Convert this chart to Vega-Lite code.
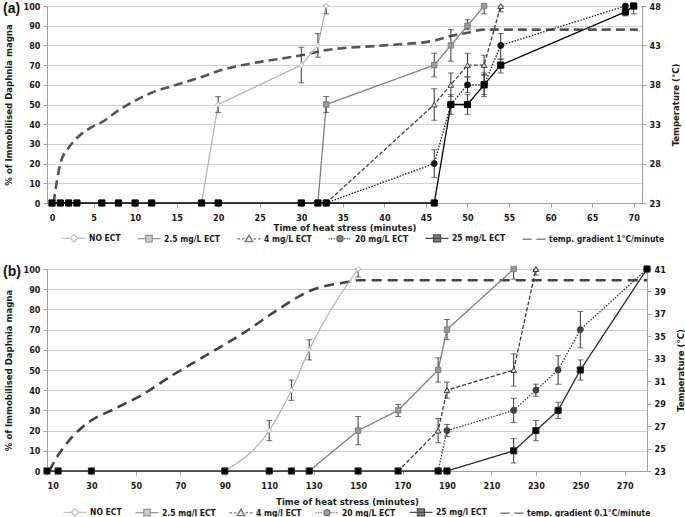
{
  "$schema": "https://vega.github.io/schema/vega-lite/v6.json",
  "padding": {"left": 3, "top": 0, "right": 0, "bottom": 0},
  "datasets": {
    "tempA": [
      {"t": 0.2, "temp": 23}, {"t": 1, "temp": 28}, {"t": 2, "temp": 30}, {"t": 3, "temp": 31.25},
      {"t": 5, "temp": 32.75}, {"t": 6, "temp": 33.25}, {"t": 8, "temp": 34.75}, {"t": 10, "temp": 36},
      {"t": 12, "temp": 37}, {"t": 15, "temp": 38}, {"t": 18, "temp": 39}, {"t": 20, "temp": 39.75},
      {"t": 23, "temp": 40.5}, {"t": 30, "temp": 41.75}, {"t": 33, "temp": 42.4}, {"t": 40, "temp": 43},
      {"t": 46, "temp": 43.6}, {"t": 48, "temp": 44.2}, {"t": 50, "temp": 44.6}, {"t": 52, "temp": 45},
      {"t": 70.5, "temp": 45}
    ],
    "serA": [
      {"series": "NO ECT", "t": 18, "p": 0},
      {"series": "NO ECT", "t": 20, "p": 50, "lo": 46, "hi": 54},
      {"series": "NO ECT", "t": 30, "p": 70, "lo": 61, "hi": 79},
      {"series": "NO ECT", "t": 32, "p": 80, "lo": 74, "hi": 86},
      {"series": "NO ECT", "t": 33, "p": 100, "lo": 96, "hi": 100},
      {"series": "2.5 mg/L ECT", "t": 32, "p": 0},
      {"series": "2.5 mg/L ECT", "t": 33, "p": 50, "lo": 46, "hi": 54},
      {"series": "2.5 mg/L ECT", "t": 46, "p": 70, "lo": 64, "hi": 76},
      {"series": "2.5 mg/L ECT", "t": 48, "p": 80, "lo": 72, "hi": 88},
      {"series": "2.5 mg/L ECT", "t": 50, "p": 90, "lo": 88, "hi": 93},
      {"series": "2.5 mg/L ECT", "t": 52, "p": 100, "lo": 96, "hi": 100},
      {"series": "4 mg/L ECT", "t": 33, "p": 0},
      {"series": "4 mg/L ECT", "t": 46, "p": 50, "lo": 42, "hi": 58},
      {"series": "4 mg/L ECT", "t": 48, "p": 60, "lo": 54, "hi": 66},
      {"series": "4 mg/L ECT", "t": 50, "p": 70, "lo": 64, "hi": 76},
      {"series": "4 mg/L ECT", "t": 52, "p": 70, "lo": 65, "hi": 75},
      {"series": "4 mg/L ECT", "t": 54, "p": 100, "lo": 97, "hi": 100},
      {"series": "20 mg/L ECT", "t": 33, "p": 0},
      {"series": "20 mg/L ECT", "t": 46, "p": 20, "lo": 13, "hi": 27},
      {"series": "20 mg/L ECT", "t": 48, "p": 50},
      {"series": "20 mg/L ECT", "t": 50, "p": 60, "lo": 56, "hi": 64},
      {"series": "20 mg/L ECT", "t": 52, "p": 60, "lo": 55, "hi": 65},
      {"series": "20 mg/L ECT", "t": 54, "p": 80, "lo": 73, "hi": 86},
      {"series": "20 mg/L ECT", "t": 69, "p": 100},
      {"series": "25 mg/L ECT", "t": 0, "p": 0},
      {"series": "25 mg/L ECT", "t": 1, "p": 0},
      {"series": "25 mg/L ECT", "t": 2, "p": 0},
      {"series": "25 mg/L ECT", "t": 3, "p": 0},
      {"series": "25 mg/L ECT", "t": 6, "p": 0},
      {"series": "25 mg/L ECT", "t": 8, "p": 0},
      {"series": "25 mg/L ECT", "t": 10, "p": 0},
      {"series": "25 mg/L ECT", "t": 12, "p": 0},
      {"series": "25 mg/L ECT", "t": 18, "p": 0},
      {"series": "25 mg/L ECT", "t": 20, "p": 0},
      {"series": "25 mg/L ECT", "t": 30, "p": 0},
      {"series": "25 mg/L ECT", "t": 32, "p": 0},
      {"series": "25 mg/L ECT", "t": 33, "p": 0},
      {"series": "25 mg/L ECT", "t": 46, "p": 0},
      {"series": "25 mg/L ECT", "t": 48, "p": 50, "lo": 45, "hi": 55},
      {"series": "25 mg/L ECT", "t": 50, "p": 50, "lo": 45, "hi": 55},
      {"series": "25 mg/L ECT", "t": 52, "p": 60, "lo": 54, "hi": 66},
      {"series": "25 mg/L ECT", "t": 54, "p": 70, "lo": 66, "hi": 73},
      {"series": "25 mg/L ECT", "t": 69, "p": 97, "lo": 95, "hi": 99},
      {"series": "25 mg/L ECT", "t": 70, "p": 100, "lo": 96, "hi": 100}
    ],
    "tempB": [
      {"t": 11, "temp": 23}, {"t": 15, "temp": 24.4}, {"t": 19, "temp": 25.5}, {"t": 29.5, "temp": 27.45},
      {"t": 40, "temp": 28.5}, {"t": 52, "temp": 29.7}, {"t": 67, "temp": 31.6}, {"t": 79, "temp": 33},
      {"t": 91, "temp": 34.4}, {"t": 100, "temp": 35.5}, {"t": 111, "temp": 37}, {"t": 129, "temp": 39.1},
      {"t": 147, "temp": 39.9}, {"t": 150, "temp": 40}, {"t": 280, "temp": 40}
    ],
    "serB": [
      {"series": "NO ECT", "t": 90, "p": 0},
      {"series": "NO ECT", "t": 110, "p": 20, "lo": 15, "hi": 25},
      {"series": "NO ECT", "t": 120, "p": 40, "lo": 35, "hi": 45},
      {"series": "NO ECT", "t": 128, "p": 60, "lo": 55, "hi": 65},
      {"series": "NO ECT", "t": 150, "p": 100, "lo": 96, "hi": 100},
      {"series": "2.5 mg/l ECT", "t": 128, "p": 0},
      {"series": "2.5 mg/l ECT", "t": 150, "p": 20, "lo": 13, "hi": 27},
      {"series": "2.5 mg/l ECT", "t": 168, "p": 30, "lo": 27, "hi": 33},
      {"series": "2.5 mg/l ECT", "t": 186, "p": 50, "lo": 44, "hi": 56},
      {"series": "2.5 mg/l ECT", "t": 190, "p": 70, "lo": 65, "hi": 75},
      {"series": "2.5 mg/l ECT", "t": 220, "p": 100, "lo": 95, "hi": 100},
      {"series": "4 mg/l ECT", "t": 168, "p": 0},
      {"series": "4 mg/l ECT", "t": 186, "p": 20, "lo": 14, "hi": 26},
      {"series": "4 mg/l ECT", "t": 190, "p": 40, "lo": 36, "hi": 44},
      {"series": "4 mg/l ECT", "t": 220, "p": 50, "lo": 42, "hi": 58},
      {"series": "4 mg/l ECT", "t": 230, "p": 100, "lo": 97, "hi": 100},
      {"series": "20 mg/L ECT", "t": 186, "p": 0},
      {"series": "20 mg/L ECT", "t": 190, "p": 20, "lo": 17, "hi": 23},
      {"series": "20 mg/L ECT", "t": 220, "p": 30, "lo": 24, "hi": 36},
      {"series": "20 mg/L ECT", "t": 230, "p": 40, "lo": 37, "hi": 43},
      {"series": "20 mg/L ECT", "t": 240, "p": 50, "lo": 43, "hi": 57},
      {"series": "20 mg/L ECT", "t": 250, "p": 70, "lo": 61, "hi": 79},
      {"series": "20 mg/L ECT", "t": 280, "p": 100},
      {"series": "25 mg/l ECT", "t": 10, "p": 0},
      {"series": "25 mg/l ECT", "t": 15, "p": 0},
      {"series": "25 mg/l ECT", "t": 30, "p": 0},
      {"series": "25 mg/l ECT", "t": 90, "p": 0},
      {"series": "25 mg/l ECT", "t": 110, "p": 0},
      {"series": "25 mg/l ECT", "t": 120, "p": 0},
      {"series": "25 mg/l ECT", "t": 128, "p": 0},
      {"series": "25 mg/l ECT", "t": 150, "p": 0},
      {"series": "25 mg/l ECT", "t": 168, "p": 0},
      {"series": "25 mg/l ECT", "t": 186, "p": 0},
      {"series": "25 mg/l ECT", "t": 190, "p": 0},
      {"series": "25 mg/l ECT", "t": 220, "p": 10, "lo": 4, "hi": 16},
      {"series": "25 mg/l ECT", "t": 230, "p": 20, "lo": 15, "hi": 25},
      {"series": "25 mg/l ECT", "t": 240, "p": 30, "lo": 26, "hi": 34},
      {"series": "25 mg/l ECT", "t": 250, "p": 50, "lo": 45, "hi": 55},
      {"series": "25 mg/l ECT", "t": 280, "p": 100}
    ]
  },
  "vconcat": [
    {
      "width": 595,
      "height": 197,
      "title": {"text": "(a)", "anchor": "start", "frame": "bounds", "offset": -15},
      "layer": [
        {
          "data": {"name": "tempA"},
          "mark": {"type": "line", "color": "#555555", "strokeWidth": 2.6, "strokeDash": [9, 5], "interpolate": "monotone"},
          "encoding": {
            "x": {"field": "t", "type": "quantitative", "scale": {"domain": [-0.6, 71], "nice": false, "zero": false},
              "axis": {"values": [0, 5, 10, 15, 20, 25, 30, 35, 40, 45, 50, 55, 60, 65, 70], "title": "Time of heat stress (minutes)", "grid": false, "labelPadding": 6, "titleY": 19, "titleBaseline": "top"}},
            "y": {"field": "temp", "type": "quantitative", "scale": {"domain": [23, 48], "nice": false, "zero": false},
              "axis": {"orient": "right", "values": [23, 28, 33, 38, 43, 48], "grid": false, "title": "Temperature (°C)", "titleAngle": 270, "titleBaseline": "top", "titlePadding": 10, "labelPadding": 3, "labelOverlap": false}}
          }
        },
        {
          "data": {"name": "serA"},
          "layer": [
            {
              "transform": [{"filter": "isValid(datum.p)"}],
              "mark": {"type": "line"},
              "encoding": {
                "x": {"field": "t", "type": "quantitative"},
                "y": {"field": "p", "type": "quantitative", "scale": {"domain": [0, 100], "nice": false},
                  "axis": {"orient": "left", "values": [0, 10, 20, 30, 40, 50, 60, 70, 80, 90, 100], "tickCount": 11, "title": "% of Immobilised Daphnia magna", "grid": true, "labelPadding": 3, "titlePadding": 10, "labelOverlap": false}},
                "stroke": {"field": "series", "type": "nominal", "legend": null, "scale": {"domain": ["NO ECT", "2.5 mg/L ECT", "4 mg/L ECT", "20 mg/L ECT", "25 mg/L ECT"], "range": ["#b4b4b4", "#7f7f7f", "#404040", "#1a1a1a", "#000000"]}},
                "strokeDash": {"field": "series", "type": "nominal", "legend": null, "scale": {"domain": ["NO ECT", "2.5 mg/L ECT", "4 mg/L ECT", "20 mg/L ECT", "25 mg/L ECT"], "range": [[1, 0], [1, 0], [4, 2], [1.5, 1.5], [1, 0]]}},
                "strokeWidth": {"field": "series", "type": "ordinal", "legend": null, "scale": {"domain": ["NO ECT", "2.5 mg/L ECT", "4 mg/L ECT", "20 mg/L ECT", "25 mg/L ECT"], "range": [1.3, 1.3, 1, 1, 1.7]}},
                "order": {"field": "t", "type": "quantitative"}
              }
            },
            {
              "transform": [{"filter": "isValid(datum.lo)"}],
              "mark": {"type": "rule", "color": "#333333", "strokeWidth": 1},
              "encoding": {
                "x": {"field": "t", "type": "quantitative"},
                "y": {"field": "lo", "type": "quantitative", "axis": {"orient": "left", "values": [0, 10, 20, 30, 40, 50, 60, 70, 80, 90, 100], "tickCount": 11, "title": "% of Immobilised Daphnia magna", "grid": true, "labelPadding": 3, "titlePadding": 10, "labelOverlap": false}},
                "y2": {"field": "hi"}
              }
            },
            {
              "transform": [{"filter": "isValid(datum.lo)"}],
              "mark": {"type": "tick", "orient": "horizontal", "size": 6, "thickness": 1, "color": "#333333"},
              "encoding": {
                "x": {"field": "t", "type": "quantitative"},
                "y": {"field": "lo", "type": "quantitative", "axis": {"orient": "left", "values": [0, 10, 20, 30, 40, 50, 60, 70, 80, 90, 100], "tickCount": 11, "title": "% of Immobilised Daphnia magna", "grid": true, "labelPadding": 3, "titlePadding": 10, "labelOverlap": false}}
              }
            },
            {
              "transform": [{"filter": "isValid(datum.hi)"}],
              "mark": {"type": "tick", "orient": "horizontal", "size": 6, "thickness": 1, "color": "#333333"},
              "encoding": {
                "x": {"field": "t", "type": "quantitative"},
                "y": {"field": "hi", "type": "quantitative", "axis": {"orient": "left", "values": [0, 10, 20, 30, 40, 50, 60, 70, 80, 90, 100], "tickCount": 11, "title": "% of Immobilised Daphnia magna", "grid": true, "labelPadding": 3, "titlePadding": 10, "labelOverlap": false}}
              }
            },
            {
              "mark": {"type": "point", "filled": true, "opacity": 1, "strokeWidth": 1},
              "encoding": {
                "x": {"field": "t", "type": "quantitative"},
                "y": {"field": "p", "type": "quantitative", "axis": {"orient": "left", "values": [0, 10, 20, 30, 40, 50, 60, 70, 80, 90, 100], "tickCount": 11, "title": "% of Immobilised Daphnia magna", "grid": true, "labelPadding": 3, "titlePadding": 10, "labelOverlap": false}},
                "shape": {"field": "series", "type": "nominal", "legend": null, "scale": {"domain": ["NO ECT", "2.5 mg/L ECT", "4 mg/L ECT", "20 mg/L ECT", "25 mg/L ECT"], "range": ["diamond", "square", "triangle-up", "circle", "square"]}},
                "fill": {"field": "series", "type": "nominal", "legend": null, "scale": {"domain": ["NO ECT", "2.5 mg/L ECT", "4 mg/L ECT", "20 mg/L ECT", "25 mg/L ECT"], "range": ["#ffffff", "#9a9a9a", "#d9d9d9", "#111111", "#000000"]}},
                "stroke": {"field": "series", "type": "nominal", "legend": null},
                "size": {"field": "series", "type": "ordinal", "legend": null, "scale": {"domain": ["NO ECT", "2.5 mg/L ECT", "4 mg/L ECT", "20 mg/L ECT", "25 mg/L ECT"], "range": [26, 38, 28, 28, 36]}}
              }
            }
          ]
        },
        {
          "data": {"name": "serA"},
          "transform": [{"filter": "false"}],
          "mark": {"type": "point", "filled": true, "strokeWidth": 1.3},
          "encoding": {
            "shape": {"field": "series", "type": "nominal",
              "scale": {"domain": ["NO ECT", "2.5 mg/L ECT", "4 mg/L ECT", "20 mg/L ECT", "25 mg/L ECT", "temp. gradient 1°C/minute"],
                "range": [
                  "M-2.3,0H-0.75M0.75,0H2.3M0,-0.75L0.75,0L0,0.75L-0.75,0Z",
                  "M-2.3,0H-0.65M0.65,0H2.3M-0.65,-0.65H0.65V0.65H-0.65Z",
                  "M-2.3,0H-1.8M-1.4,0H-0.9M0.9,0H1.4M1.8,0H2.3M0,-0.75L0.75,0.55H-0.75Z",
                  "M-2.3,0h0.25M-1.8,0h0.25M-1.3,0h0.25M0.8,0h0.25M1.3,0h0.25M1.8,0h0.25M-0.6,0A0.6,0.6,0,1,0,0.6,0A0.6,0.6,0,1,0,-0.6,0Z",
                  "M-2.3,0H2.3M-0.7,-0.7H0.7V0.7H-0.7Z",
                  "M-2.3,0H-0.45M0.45,0H2.3"
                ]},
              "legend": {"orient": "none", "legendX": 21, "legendY": 226, "direction": "horizontal", "columns": 6, "title": null, "symbolSize": 100, "symbolStrokeWidth": 1.3, "labelOffset": 9, "columnPadding": 13}},
            "stroke": {"field": "series", "type": "nominal",
              "scale": {"domain": ["NO ECT", "2.5 mg/L ECT", "4 mg/L ECT", "20 mg/L ECT", "25 mg/L ECT", "temp. gradient 1°C/minute"],
                "range": ["#a8a8a8", "#6e6e6e", "#404040", "#1a1a1a", "#000000", "#555555"]}},
            "fill": {"field": "series", "type": "nominal",
              "scale": {"domain": ["NO ECT", "2.5 mg/L ECT", "4 mg/L ECT", "20 mg/L ECT", "25 mg/L ECT", "temp. gradient 1°C/minute"],
                "range": ["#ffffff", "#9a9a9a", "#d9d9d9", "#111111", "#000000", "#555555"]}}
          }
        }
      ],
      "resolve": {"scale": {"y": "independent", "stroke": "independent", "fill": "independent", "shape": "independent", "strokeDash": "independent", "strokeWidth": "independent", "size": "independent"}}
    },
    {
      "width": 600,
      "height": 202,
      "title": {"text": "(b)", "anchor": "start", "frame": "bounds", "offset": -15},
      "layer": [
        {
          "data": {"name": "tempB"},
          "mark": {"type": "line", "color": "#444444", "strokeWidth": 2.6, "strokeDash": [10, 6], "interpolate": "monotone"},
          "encoding": {
            "x": {"field": "t", "type": "quantitative", "scale": {"domain": [10, 280], "nice": false, "zero": false},
              "axis": {"values": [10, 30, 50, 70, 90, 110, 130, 150, 170, 190, 210, 230, 250, 270], "title": "Time of heat stress (minutes)", "grid": false, "labelPadding": 6, "titleY": 25, "titleBaseline": "top"}},
            "y": {"field": "temp", "type": "quantitative", "scale": {"domain": [23, 41], "nice": false, "zero": false},
              "axis": {"orient": "right", "values": [23, 25, 27, 29, 31, 33, 35, 37, 39, 41], "grid": false, "title": "Temperature (°C)", "titleAngle": 270, "titleBaseline": "top", "titlePadding": 10, "labelPadding": 3, "labelOverlap": false}}
          }
        },
        {
          "data": {"name": "serB"},
          "layer": [
            {
              "transform": [{"filter": "datum.series !== 'NO ECT'"}],
              "mark": {"type": "line"},
              "encoding": {
                "x": {"field": "t", "type": "quantitative"},
                "y": {"field": "p", "type": "quantitative", "scale": {"domain": [0, 100], "nice": false},
                  "axis": {"orient": "left", "values": [0, 10, 20, 30, 40, 50, 60, 70, 80, 90, 100], "tickCount": 11, "title": "% of Immobilised Daphnia magna", "grid": true, "labelPadding": 3, "titlePadding": 10, "labelOverlap": false}},
                "stroke": {"field": "series", "type": "nominal", "legend": null, "scale": {"domain": ["NO ECT", "2.5 mg/l ECT", "4 mg/l ECT", "20 mg/L ECT", "25 mg/l ECT"], "range": ["#b4b4b4", "#7f7f7f", "#383838", "#383838", "#2a2a2a"]}},
                "strokeDash": {"field": "series", "type": "nominal", "legend": null, "scale": {"domain": ["NO ECT", "2.5 mg/l ECT", "4 mg/l ECT", "20 mg/L ECT", "25 mg/l ECT"], "range": [[1, 0], [1, 0], [4, 2], [1.5, 1.5], [1, 0]]}},
                "strokeWidth": {"field": "series", "type": "ordinal", "legend": null, "scale": {"domain": ["NO ECT", "2.5 mg/l ECT", "4 mg/l ECT", "20 mg/L ECT", "25 mg/l ECT"], "range": [1.3, 1.3, 1.1, 1, 1.4]}},
                "order": {"field": "t", "type": "quantitative"}
              }
            },
            {
              "transform": [{"filter": "datum.series === 'NO ECT'"}],
              "mark": {"type": "line", "interpolate": "monotone", "color": "#b4b4b4", "strokeWidth": 1.3},
              "encoding": {
                "x": {"field": "t", "type": "quantitative"},
                "y": {"field": "p", "type": "quantitative", "axis": {"orient": "left", "values": [0, 10, 20, 30, 40, 50, 60, 70, 80, 90, 100], "tickCount": 11, "title": "% of Immobilised Daphnia magna", "grid": true, "labelPadding": 3, "titlePadding": 10, "labelOverlap": false}},
                "order": {"field": "t", "type": "quantitative"}
              }
            },
            {
              "transform": [{"filter": "isValid(datum.lo)"}],
              "mark": {"type": "rule", "color": "#333333", "strokeWidth": 1},
              "encoding": {
                "x": {"field": "t", "type": "quantitative"},
                "y": {"field": "lo", "type": "quantitative", "axis": {"orient": "left", "values": [0, 10, 20, 30, 40, 50, 60, 70, 80, 90, 100], "tickCount": 11, "title": "% of Immobilised Daphnia magna", "grid": true, "labelPadding": 3, "titlePadding": 10, "labelOverlap": false}},
                "y2": {"field": "hi"}
              }
            },
            {
              "transform": [{"filter": "isValid(datum.lo)"}],
              "mark": {"type": "tick", "orient": "horizontal", "size": 6, "thickness": 1, "color": "#333333"},
              "encoding": {
                "x": {"field": "t", "type": "quantitative"},
                "y": {"field": "lo", "type": "quantitative", "axis": {"orient": "left", "values": [0, 10, 20, 30, 40, 50, 60, 70, 80, 90, 100], "tickCount": 11, "title": "% of Immobilised Daphnia magna", "grid": true, "labelPadding": 3, "titlePadding": 10, "labelOverlap": false}}
              }
            },
            {
              "transform": [{"filter": "isValid(datum.hi)"}],
              "mark": {"type": "tick", "orient": "horizontal", "size": 6, "thickness": 1, "color": "#333333"},
              "encoding": {
                "x": {"field": "t", "type": "quantitative"},
                "y": {"field": "hi", "type": "quantitative", "axis": {"orient": "left", "values": [0, 10, 20, 30, 40, 50, 60, 70, 80, 90, 100], "tickCount": 11, "title": "% of Immobilised Daphnia magna", "grid": true, "labelPadding": 3, "titlePadding": 10, "labelOverlap": false}}
              }
            },
            {
              "mark": {"type": "point", "filled": true, "opacity": 1, "strokeWidth": 1},
              "encoding": {
                "x": {"field": "t", "type": "quantitative"},
                "y": {"field": "p", "type": "quantitative", "axis": {"orient": "left", "values": [0, 10, 20, 30, 40, 50, 60, 70, 80, 90, 100], "tickCount": 11, "title": "% of Immobilised Daphnia magna", "grid": true, "labelPadding": 3, "titlePadding": 10, "labelOverlap": false}},
                "shape": {"field": "series", "type": "nominal", "legend": null, "scale": {"domain": ["NO ECT", "2.5 mg/l ECT", "4 mg/l ECT", "20 mg/L ECT", "25 mg/l ECT"], "range": ["diamond", "square", "triangle-up", "circle", "square"]}},
                "fill": {"field": "series", "type": "nominal", "legend": null, "scale": {"domain": ["NO ECT", "2.5 mg/l ECT", "4 mg/l ECT", "20 mg/L ECT", "25 mg/l ECT"], "range": ["#ffffff", "#9a9a9a", "#d9d9d9", "#444444", "#000000"]}},
                "stroke": {"field": "series", "type": "nominal", "legend": null},
                "size": {"field": "series", "type": "ordinal", "legend": null, "scale": {"domain": ["NO ECT", "2.5 mg/l ECT", "4 mg/l ECT", "20 mg/L ECT", "25 mg/l ECT"], "range": [26, 38, 28, 30, 36]}}
              }
            }
          ]
        },
        {
          "data": {"name": "serB"},
          "transform": [{"filter": "false"}],
          "mark": {"type": "point", "filled": true, "strokeWidth": 1.3},
          "encoding": {
            "shape": {"field": "series", "type": "nominal",
              "scale": {"domain": ["NO ECT", "2.5 mg/l ECT", "4 mg/l ECT", "20 mg/L ECT", "25 mg/l ECT", "temp. gradient 0.1°C/minute"],
                "range": [
                  "M-2.3,0H-0.75M0.75,0H2.3M0,-0.75L0.75,0L0,0.75L-0.75,0Z",
                  "M-2.3,0H-0.65M0.65,0H2.3M-0.65,-0.65H0.65V0.65H-0.65Z",
                  "M-2.3,0H-1.8M-1.4,0H-0.9M0.9,0H1.4M1.8,0H2.3M0,-0.75L0.75,0.55H-0.75Z",
                  "M-2.3,0h0.25M-1.8,0h0.25M-1.3,0h0.25M0.8,0h0.25M1.3,0h0.25M1.8,0h0.25M-0.6,0A0.6,0.6,0,1,0,0.6,0A0.6,0.6,0,1,0,-0.6,0Z",
                  "M-2.3,0H2.3M-0.7,-0.7H0.7V0.7H-0.7Z",
                  "M-2.3,0H-0.45M0.45,0H2.3"
                ]},
              "legend": {"orient": "none", "legendX": 22, "legendY": 237, "direction": "horizontal", "columns": 6, "title": null, "symbolSize": 100, "symbolStrokeWidth": 1.3, "labelOffset": 9, "columnPadding": 10}},
            "stroke": {"field": "series", "type": "nominal",
              "scale": {"domain": ["NO ECT", "2.5 mg/l ECT", "4 mg/l ECT", "20 mg/L ECT", "25 mg/l ECT", "temp. gradient 0.1°C/minute"],
                "range": ["#a8a8a8", "#6e6e6e", "#383838", "#383838", "#000000", "#444444"]}},
            "fill": {"field": "series", "type": "nominal",
              "scale": {"domain": ["NO ECT", "2.5 mg/l ECT", "4 mg/l ECT", "20 mg/L ECT", "25 mg/l ECT", "temp. gradient 0.1°C/minute"],
                "range": ["#ffffff", "#9a9a9a", "#d9d9d9", "#444444", "#000000", "#444444"]}}
          }
        }
      ],
      "resolve": {"scale": {"y": "independent", "stroke": "independent", "fill": "independent", "shape": "independent", "strokeDash": "independent", "strokeWidth": "independent", "size": "independent"}}
    }
  ],
  "spacing": 18,
  "config": {
    "view": {"stroke": null},
    "font": "DejaVu Sans Condensed, Liberation Sans",
    "axis": {"labelFont": "DejaVu Sans Condensed, Liberation Sans", "labelFontWeight": "bold", "labelFontSize": 9, "labelColor": "#1a1a1a", "titleFont": "DejaVu Sans Condensed, Liberation Sans", "titleFontWeight": "bold", "titleFontSize": 9.5, "titleColor": "#1a1a1a", "domainColor": "#a0a0a0", "tickColor": "#a0a0a0", "gridColor": "#d0d0d0", "tickSize": 4},
    "legend": {"labelFont": "DejaVu Sans Condensed, Liberation Sans", "labelFontWeight": "bold", "labelFontSize": 8.5, "labelColor": "#1a1a1a"},
    "title": {"font": "Liberation Sans", "fontWeight": "bold", "fontSize": 14, "color": "#111111"}
  }
}
